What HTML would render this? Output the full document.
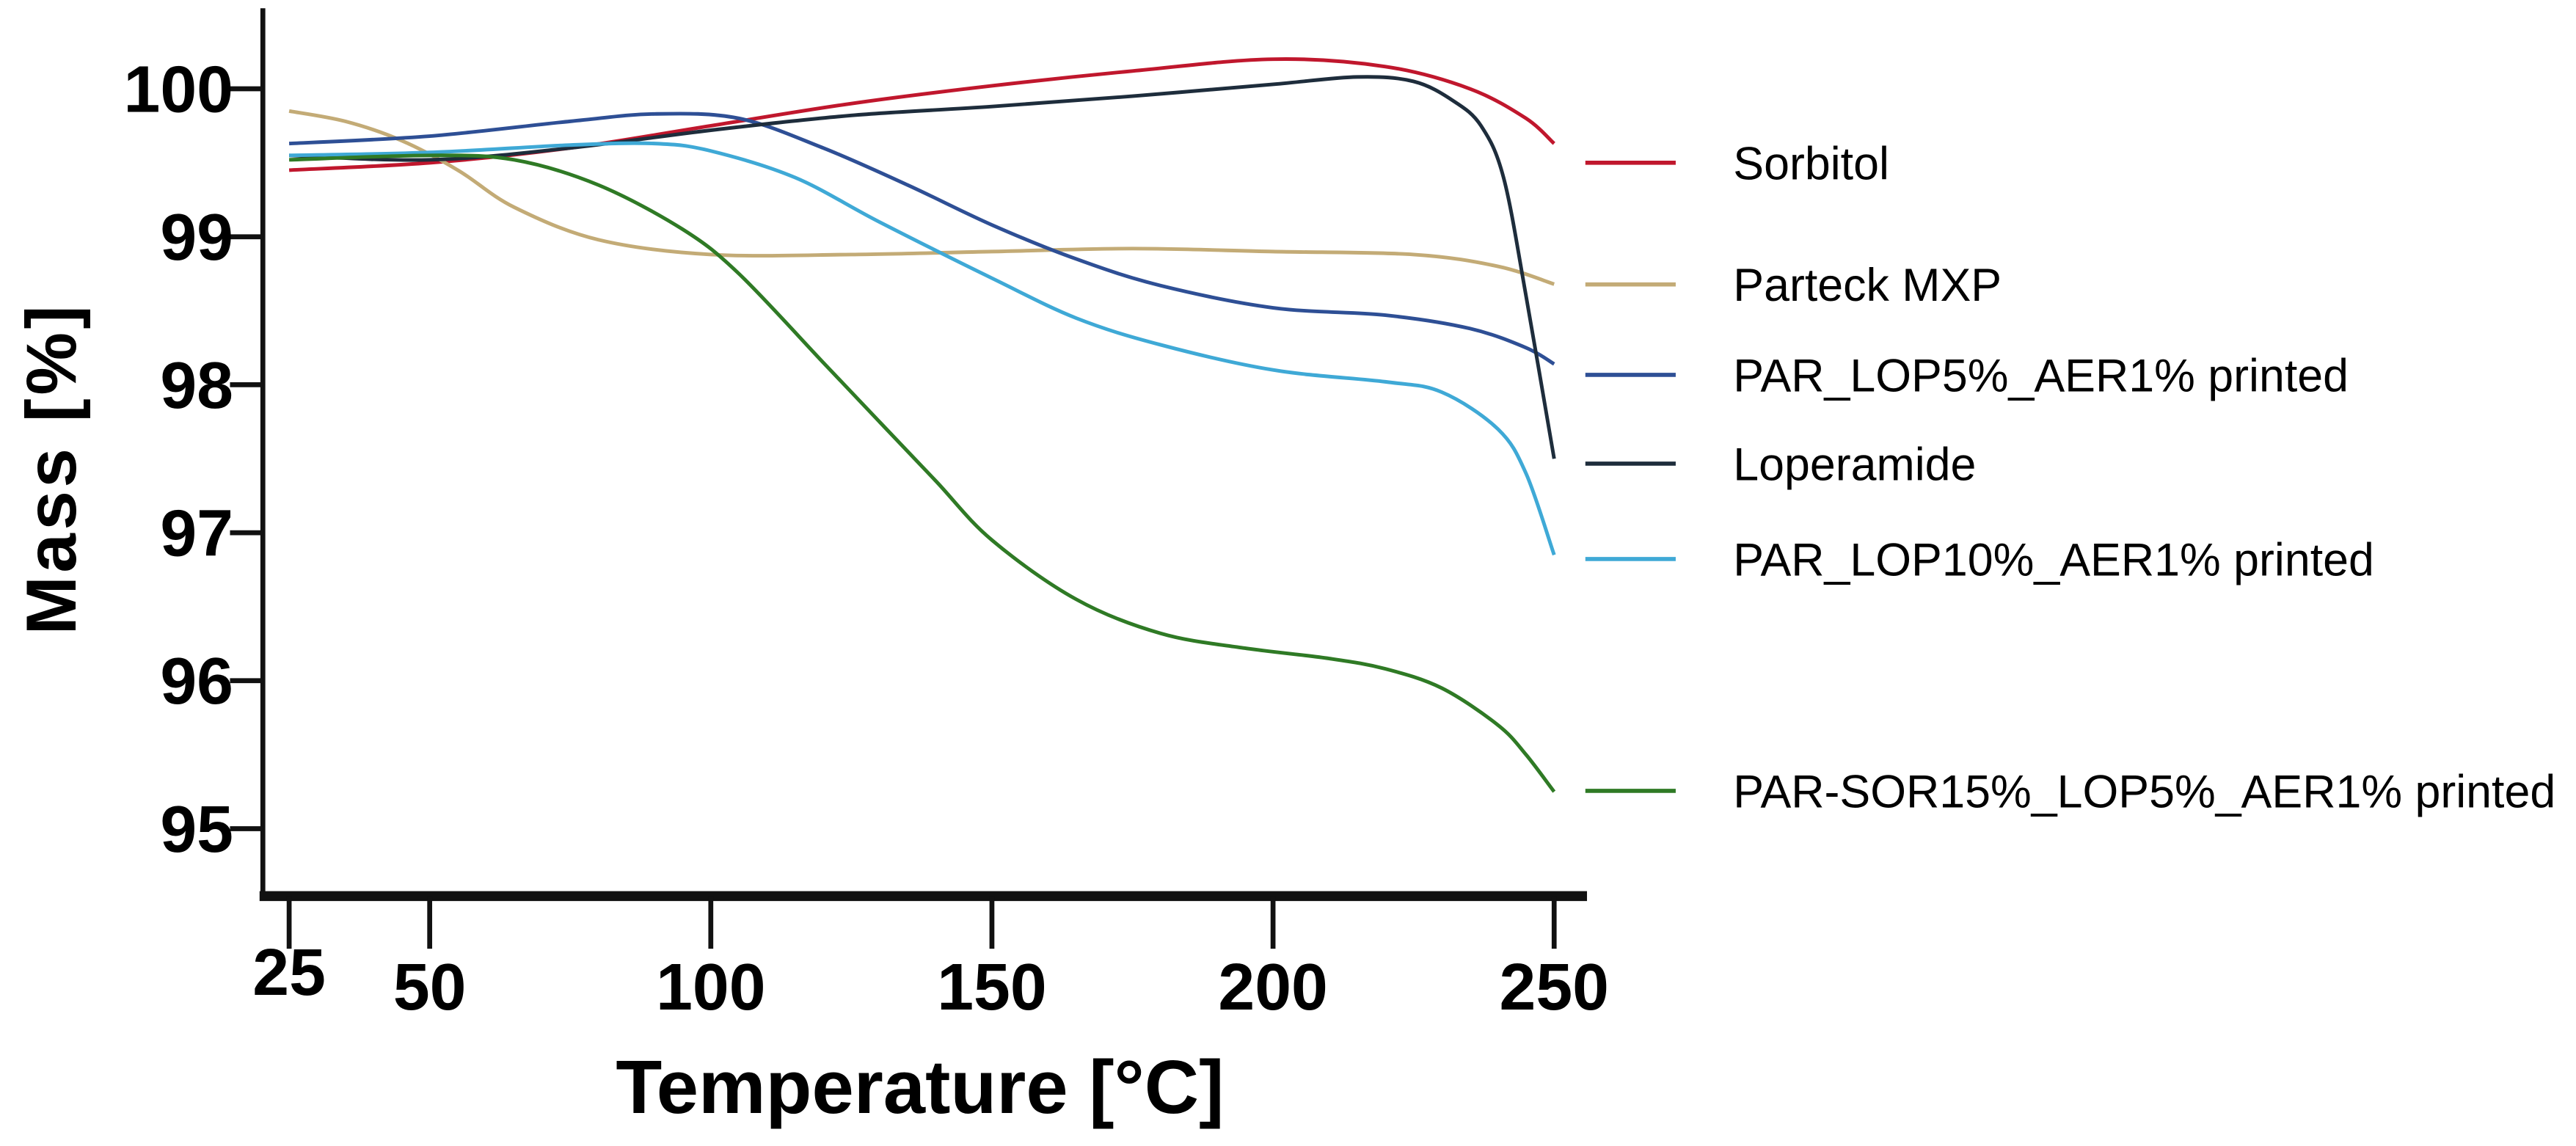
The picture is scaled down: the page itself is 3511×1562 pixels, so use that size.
<!DOCTYPE html>
<html><head><meta charset="utf-8"><style>
html,body{margin:0;padding:0;background:#fff;}
svg{display:block;}
text{font-family:"Liberation Sans",Arial,sans-serif;}
</style></head><body>
<svg id="chart" width="3511" height="1562" viewBox="0 0 1568 697" preserveAspectRatio="none" xmlns="http://www.w3.org/2000/svg">
<g id="axes"></g>
<g id="series"></g>
<g id="legend"></g>
<text x="560" y="677" font-size="46" font-weight="bold" text-anchor="middle">Temperature [°C]</text>
<text transform="translate(46,285) rotate(-90)" font-size="43" font-weight="bold" text-anchor="middle" letter-spacing="2">Mass [%]</text>
</svg>
<script>
const xTicks=[25,50,100,150,200,250];
const yTicks=[95,96,97,98,99,100];
const names=["Sorbitol","Parteck MXP","PAR_LOP5%_AER1% printed","Loperamide","PAR_LOP10%_AER1% printed","PAR-SOR15%_LOP5%_AER1% printed"];
const colors=["#c0172d","#c3ab76","#2e4f95","#1e2d3c","#3fa9d6","#2f7a25"];
const legendY=[99,173,228,282,340,481];
const tSorb=[25,50,75,100,125,150,175,200,220,235,245,250];
const vSorb=[99.45,99.5,99.6,99.75,99.9,100.02,100.12,100.2,100.15,100.0,99.8,99.63];
const tPart=[25,35,45,55,65,80,100,125,150,175,200,225,240,250];
const vPart=[99.85,99.78,99.65,99.45,99.2,98.98,98.88,98.88,98.9,98.92,98.9,98.88,98.8,98.68];
const tLop5=[25,50,75,90,105,120,135,150,165,180,200,220,235,245,250];
const vLop5=[99.63,99.68,99.78,99.83,99.8,99.6,99.35,99.08,98.85,98.67,98.52,98.47,98.38,98.25,98.14];
const tLope=[25,50,75,100,125,150,175,200,215,225,232,237,241,245,250];
const vLope=[99.55,99.52,99.6,99.72,99.82,99.88,99.95,100.03,100.08,100.05,99.92,99.75,99.4,98.6,97.5];
const tLop10=[25,50,75,90,100,115,130,150,165,180,200,220,230,240,245,250];
const vLop10=[99.55,99.57,99.62,99.63,99.58,99.4,99.1,98.72,98.45,98.27,98.1,98.02,97.95,97.7,97.4,96.85];
const tSor15=[25,50,65,80,95,105,120,130,140,150,165,180,195,210,220,230,240,245,250];
const vSor15=[99.52,99.55,99.52,99.35,99.05,98.75,98.15,97.75,97.35,96.95,96.55,96.32,96.22,96.15,96.08,95.95,95.7,95.5,95.25];
const allT=[tSorb,tPart,tLop5,tLope,tLop10,tSor15];
const allV=[vSorb,vPart,vLop5,vLope,vLop10,vSor15];

const NS="http://www.w3.org/2000/svg";
function xs(t){return 176+(t-25)*(946-176)/225;}
function ys(v){return 54+(100-v)*90;}
function mk(tag,attrs,parent){const e=document.createElementNS(NS,tag);for(const k in attrs)e.setAttribute(k,attrs[k]);parent.appendChild(e);return e;}
function smooth(pts){
 let d='M'+pts[0][0].toFixed(1)+','+pts[0][1].toFixed(1);
 for(let i=0;i<pts.length-1;i++){
  const p0=pts[Math.max(i-1,0)],p1=pts[i],p2=pts[i+1],p3=pts[Math.min(i+2,pts.length-1)];
  const c1=[p1[0]+(p2[0]-p0[0])/6,p1[1]+(p2[1]-p0[1])/6];
  const c2=[p2[0]-(p3[0]-p1[0])/6,p2[1]-(p3[1]-p1[1])/6];
  d+=' C'+c1[0].toFixed(1)+','+c1[1].toFixed(1)+' '+c2[0].toFixed(1)+','+c2[1].toFixed(1)+' '+p2[0].toFixed(1)+','+p2[1].toFixed(1);
 }
 return d;
}
const axes=document.getElementById('axes');
let e=mk('line',{x1:160,y1:5,x2:160,y2:547,stroke:'#111','stroke-width':3},axes);


e=mk('line',{x1:158,y1:545,x2:966,y2:545,stroke:'#111','stroke-width':6},axes);


yTicks.forEach(v=>{
 const t=mk('line',{x1:140,y1:ys(v),x2:160,y2:ys(v),stroke:'#111','stroke-width':3},axes);
 
 
 const l=mk('text',{x:142,y:ys(v)+14,'font-size':40,'font-weight':'bold','text-anchor':'end'},axes);
 l.textContent=v;
 
 
});
xTicks.forEach(v=>{
 const t=mk('line',{x1:xs(v),y1:545,x2:xs(v),y2:577,stroke:'#111','stroke-width':3},axes);
 
 
 const l=mk('text',{x:xs(v),y:v===25?605:614,'font-size':40,'font-weight':'bold','text-anchor':'middle'},axes);
 l.textContent=v;
 
 
});
const sg=document.getElementById('series'), lg=document.getElementById('legend');
allT.forEach((ts,i)=>{
 const pts=ts.map((t,j)=>[xs(t),ys(allV[i][j])]);
 const p=mk('path',{d:smooth(pts),fill:'none',stroke:colors[i],'stroke-width':2.2,'stroke-linejoin':'round'},sg);
 
 
 const ll=mk('line',{x1:965,y1:legendY[i],x2:1020,y2:legendY[i],stroke:colors[i],'stroke-width':2.5},lg);
 
 
 const lt=mk('text',{x:1055,y:legendY[i]+10,'font-size':28},lg);
 lt.textContent=names[i];
 
 
});
</script>
</body></html>
